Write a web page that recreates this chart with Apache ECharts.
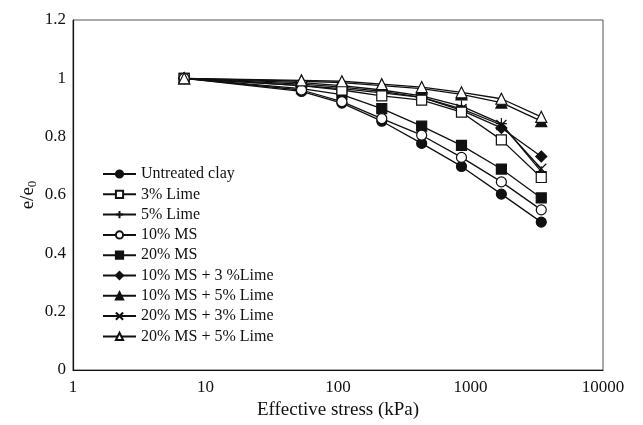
<!DOCTYPE html>
<html>
<head>
    <meta charset="utf-8"/>
    <title>e/e0 vs effective stress</title>
    <script src="https://cdn.jsdelivr.net/npm/echarts@6/dist/echarts.min.js"></script>
    <style>
        html, body { margin: 0; padding: 0; background: #fff; }
        #chart { width: 643px; height: 425px; }
    </style>
</head>
<body>
<div id="chart"></div>
<script>
    // stress steps (kPa)
    var stress = [6.9, 53, 107, 214, 428, 855, 1710, 3420];

    var untreated   = [1, 0.955, 0.915, 0.853, 0.777, 0.698, 0.603, 0.507];
    var lime3       = [1, 0.975, 0.960, 0.940, 0.925, 0.884, 0.789, 0.660];
    var lime5       = [1, 0.985, 0.975, 0.960, 0.940, 0.905, 0.845, 0.680];
    var ms10        = [1, 0.960, 0.920, 0.862, 0.805, 0.729, 0.645, 0.549];
    var ms20        = [1, 0.965, 0.944, 0.896, 0.836, 0.770, 0.689, 0.590];
    var ms10lime3   = [1, 0.980, 0.970, 0.955, 0.935, 0.890, 0.830, 0.732];
    var ms10lime5   = [1, 0.990, 0.985, 0.975, 0.965, 0.945, 0.917, 0.853];
    var ms20lime3   = [1, 0.975, 0.965, 0.950, 0.935, 0.895, 0.840, 0.690];
    var ms20lime5   = [1, 0.993, 0.990, 0.980, 0.970, 0.952, 0.930, 0.868];

    var names = ['Untreated clay', '3% Lime', '5% Lime', '10% MS', '20% MS',
        '10% MS + 3 %Lime', '10% MS + 5% Lime', '20% MS + 3% Lime', '20% MS + 5% Lime'];

    var xTicks = [1, 10, 100, 1000, 10000];
    var yTicks = [0, 0.2, 0.4, 0.6, 0.8, 1, 1.2];

    var serif = '"Liberation Serif", "DejaVu Serif", serif';

    // marker paths
    var plus = 'path://M5,0L5,10M0,5L10,5';
    var cross = 'path://M0,0L10,10M10,0L0,10';

    var markers = [
        {symbol: 'circle', size: 10, fill: '#111'},
        {symbol: 'rect', size: 10, fill: '#fff'},
        {symbol: plus, size: 11, fill: 'none'},
        {symbol: 'circle', size: 10, fill: '#fff'},
        {symbol: 'rect', size: 10, fill: '#111'},
        {symbol: 'diamond', size: 11, fill: '#111'},
        {symbol: 'triangle', size: 11, fill: '#111'},
        {symbol: cross, size: 10, fill: 'none'},
        {symbol: 'triangle', size: 11, fill: '#fff'}
    ];

    var datasets = [untreated, lime3, lime5, ms10, ms20, ms10lime3, ms10lime5, ms20lime3, ms20lime5];

    var series = datasets.map(function (vals, i) {
        var m = markers[i];
        return {
            name: names[i],
            type: 'line',
            data: stress.map(function (s, j) { return [s, vals[j]]; }),
            symbol: m.symbol,
            symbolSize: m.size,
            showAllSymbol: true,
            z: 2 + (m.fill === '#fff' ? 1 : 0),
            lineStyle: {color: '#111', width: 1.3},
            itemStyle: {color: m.fill, borderColor: '#111', borderWidth: 1.2},
            emphasis: {disabled: true}
        };
    });

    var chart = echarts.init(document.getElementById('chart'));
    chart.setOption({
        animation: false,
        backgroundColor: '#fff',
        grid: {
            left: 73, right: 40, top: 20, bottom: 53,
            show: true, borderColor: '#555', borderWidth: 1
        },
        legend: {
            orient: 'vertical',
            left: 97,
            top: 161,
            itemWidth: 33,
            itemHeight: 9,
            itemGap: 4.3,
            data: names,
            textStyle: {fontFamily: serif, fontSize: 16, color: '#111'}
        },
        xAxis: {
            type: 'log',
            logBase: 10,
            min: 1,
            max: 10000,
            name: 'Effective stress (kPa)',
            nameLocation: 'middle',
            nameGap: 31,
            nameTextStyle: {fontFamily: serif, fontSize: 19, color: '#111'},
            axisLine: {lineStyle: {color: '#111', width: 1.2}},
            axisTick: {show: false},
            splitLine: {show: false},
            axisLabel: {
                fontFamily: serif, fontSize: 17, color: '#111', margin: 9,
                formatter: function (v) {
                    return xTicks.indexOf(Math.round(v)) >= 0 ? String(Math.round(v)) : '';
                }
            }
        },
        yAxis: {
            type: 'value',
            min: 0,
            max: 1.2,
            interval: 0.2,
            name: '{a|e/e}{s|0}',
            nameLocation: 'middle',
            nameGap: 34,
            nameMoveOverlap: false,
            nameRotate: 90,
            nameTextStyle: {
                rich: {
                    a: {fontFamily: serif, fontSize: 19, color: '#111'},
                    s: {fontFamily: serif, fontSize: 13, color: '#111', verticalAlign: 'bottom', padding: [8, 0, 0, 0]}
                }
            },
            axisLine: {show: true, lineStyle: {color: '#111', width: 1.2}},
            axisTick: {show: false},
            splitLine: {show: false},
            axisLabel: {
                fontFamily: serif, fontSize: 17, color: '#111', margin: 7,
                formatter: function (v) {
                    var r = Math.round(v * 10) / 10;
                    return yTicks.indexOf(r) >= 0 ? String(r) : '';
                }
            }
        },
        series: series
    });
</script>
</body>
</html>
